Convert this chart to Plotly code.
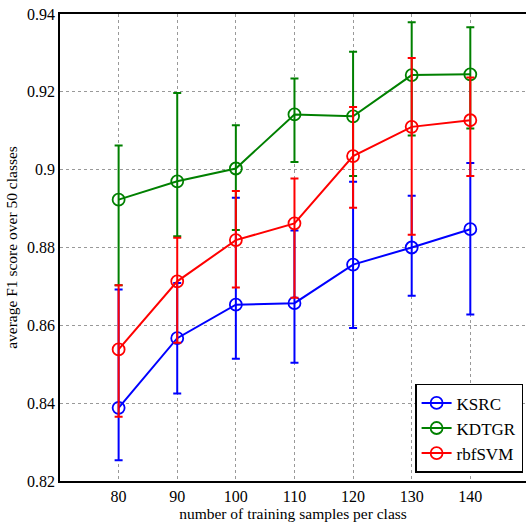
import plotly.graph_objects as go

samples = [80, 90, 100, 110, 120, 130, 140]

ksrc_mean = [0.8388, 0.8567, 0.8653, 0.8657, 0.8756, 0.8800, 0.8847]
ksrc_upper = [0.8692, 0.8709, 0.8928, 0.8844, 0.8969, 0.8933, 0.9017]
ksrc_lower = [0.8253, 0.8425, 0.8514, 0.8504, 0.8593, 0.8676, 0.8628]

kdtgr_mean = [0.8923, 0.8970, 0.9003, 0.9142, 0.9137, 0.9243, 0.9245]
kdtgr_upper = [0.9062, 0.9197, 0.9114, 0.9234, 0.9303, 0.9379, 0.9366]
kdtgr_lower = [0.8703, 0.8829, 0.8845, 0.9020, 0.8984, 0.9088, 0.9106]

svm_mean = [0.8538, 0.8713, 0.8819, 0.8862, 0.9035, 0.9110, 0.9127]
svm_upper = [0.8703, 0.8825, 0.8945, 0.8977, 0.9161, 0.9287, 0.9237]
svm_lower = [0.8365, 0.8555, 0.8697, 0.8671, 0.8902, 0.8833, 0.8984]

series = [
    ("KSRC", ksrc_mean, ksrc_upper, ksrc_lower, "#0000ff"),
    ("KDTGR", kdtgr_mean, kdtgr_upper, kdtgr_lower, "#008000"),
    ("rbfSVM", svm_mean, svm_upper, svm_lower, "#ff0000"),
]

fig = go.Figure()
for name, m, up, lo, col in series:
    fig.add_trace(go.Scatter(
        x=samples, y=m, name=name, mode="lines+markers",
        line=dict(color=col, width=2),
        marker=dict(symbol="circle-open", size=12, color=col, line=dict(width=1.8, color=col)),
        error_y=dict(type="data", symmetric=False,
                     array=[u - v for u, v in zip(up, m)],
                     arrayminus=[v - l for v, l in zip(m, lo)],
                     color=col, thickness=2, width=4),
    ))

font = "Liberation Serif"
fig.update_layout(
    width=526, height=529,
    margin=dict(l=60, r=0, t=14, b=48),
    plot_bgcolor="white", paper_bgcolor="white",
    font=dict(family=font, size=16, color="black"),
    showlegend=True,
    legend=dict(x=0.762, y=0.208, xanchor="left", yanchor="top",
                bordercolor="black", borderwidth=1.5, bgcolor="white",
                font=dict(family=font, size=17), tracegroupgap=0,
                itemwidth=30),
    xaxis=dict(range=[70, 149.5], tickvals=samples, ticks="",
               tickfont=dict(family=font, size=16),
               showgrid=True, gridcolor="#999999", griddash="dot", gridwidth=1,
               showline=True, linecolor="black", linewidth=1.5, mirror=True,
               zeroline=False,
               title=dict(text="number of training samples per class", font=dict(family=font, size=15.5), standoff=4)),
    yaxis=dict(range=[0.82, 0.94], dtick=0.02, tickformat="~g", ticks="",
               tickfont=dict(family=font, size=16),
               showgrid=True, gridcolor="#999999", griddash="dot", gridwidth=1,
               showline=True, linecolor="black", linewidth=1.5, mirror=False,
               zeroline=False,
               title=dict(text="average F1 score over 50 classes", font=dict(family=font, size=15.5), standoff=6)),
)

fig.write_html("out.html")
